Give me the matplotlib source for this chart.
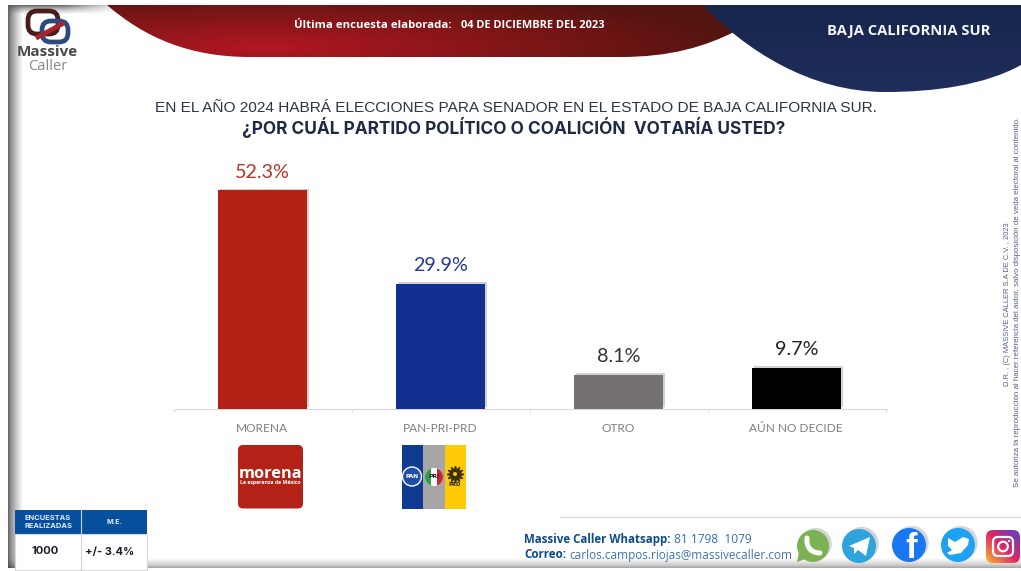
import numpy as np
import matplotlib
matplotlib.use("Agg")
import matplotlib.pyplot as plt
import matplotlib.patheffects as pe
from matplotlib.patches import Rectangle, FancyBboxPatch, Circle, Polygon, PathPatch
from matplotlib.path import Path

# ── data ──────────────────────────────────────────────────────────────────────
categories = ["MORENA", "PAN-PRI-PRD", "OTRO", "AÚN NO DECIDE"]
values = [52.3, 29.9, 8.1, 9.7]
value_labels = ["52.3%", "29.9%", "8.1%", "9.7%"]
bar_colors = ["#B22114", "#12308F", "#767171", "#000000"]
label_colors = ["#B5352A", "#23398F", "#333333", "#222222"]

W, H = 1021, 571
fig = plt.figure(figsize=(W / 100, H / 100), dpi=100, facecolor="white")

# background layer in pixel coordinates
bg = fig.add_axes([0, 0, 1, 1], zorder=0)
bg.set_xlim(0, W)
bg.set_ylim(H, 0)
bg.axis("off")


def gradient(ax, arr, extent, z=1):
    return ax.imshow(arr, extent=extent, aspect="auto", zorder=z, interpolation="bilinear")


def lerp(c1, c2, t):
    c1, c2 = np.array(c1), np.array(c2)
    return c1 + (c2 - c1) * t[..., None]


# ── page shadow ───────────────────────────────────────────────────────────────
px, py = np.meshgrid(np.arange(8, W) + 0.5, np.arange(5, 568) + 0.5)
s_left = np.clip((px - 8) / 15, 0, 1) ** 0.7
s_top = 1 - (1 - np.clip((py - 5) / 9, 0, 1) ** 0.7) * np.clip((125 - px) / 60, 0, 1)
s_bot = np.clip((568 - py) / 10, 0, 1) ** 0.6
shade = (0.35 + 0.65 * s_left * s_top) * (0.6 + 0.4 * s_bot)
gradient(bg, np.dstack([shade] * 3), (8, W, 568, 5))

# ── header shapes ─────────────────────────────────────────────────────────────
MV, C4, LT, CP = Path.MOVETO, Path.CURVE4, Path.LINETO, Path.CLOSEPOLY
red_path = Path(
    [(107, 5), (145, 38), (190, 57), (250, 57), (620, 57), (670, 57), (705, 47), (738, 30), (738, 5), (107, 5)],
    [MV, C4, C4, C4, LT, C4, C4, C4, LT, CP],
)
blue_path = Path(
    [(703, 5), (745, 50), (810, 92), (885, 92), (935, 92), (985, 85), (1021, 65), (1021, 5), (703, 5)],
    [MV, C4, C4, C4, C4, C4, C4, LT, CP],
)
xx, yy = np.meshgrid(np.linspace(100, 740, 200), np.linspace(5, 60, 40))
d = np.clip(np.hypot((xx - 265) / 470, (yy - 48) / 60), 0, 1)
red_im = gradient(bg, lerp((0.70, 0.09, 0.13), (0.33, 0.08, 0.06), d), (100, 740, 60, 5), z=3)
red_im.set_clip_path(PathPatch(red_path, transform=bg.transData))
t = np.linspace(0, 1, 40)[:, None]
blue_im = gradient(bg, lerp((0.09, 0.15, 0.30), (0.125, 0.18, 0.36), t), (700, 1021, 95, 5), z=4)
blue_im.set_clip_path(PathPatch(blue_path, transform=bg.transData))
bg.set_xlim(0, W)
bg.set_ylim(H, 0)

bg.text(294, 25.5, "Última encuesta elaborada:", color="white", fontsize=8.2, fontweight="bold",
        family="Open Sans", va="center", zorder=5)
bg.text(461, 25.5, "04 DE DICIEMBRE DEL 2023", color="white", fontsize=7.9, fontweight="bold",
        family="Open Sans", va="center", zorder=5)
bg.text(909, 30.5, "BAJA CALIFORNIA SUR", color="#F4F5F8", fontsize=10.6, fontweight="bold",
        family="Open Sans", ha="center", va="center", zorder=5)

# ── logo ──────────────────────────────────────────────────────────────────────
bg.add_patch(FancyBboxPatch((28, 11), 30, 23, boxstyle="round,pad=0,rounding_size=9", fc="none",
                            ec="#4A1B1B", lw=3.4, zorder=5))
bg.add_patch(FancyBboxPatch((42, 21), 26, 21, boxstyle="round,pad=0,rounding_size=9", fc="none",
                            ec="#2B4A80", lw=3.4, zorder=5))
bg.plot([38, 62], [37, 24], color="#A8232A", lw=3.4, zorder=6)
bg.text(47.5, 52, "Massive", color="#4A4A4A", fontsize=11, fontweight="bold", family="Open Sans",
        ha="center", va="center", zorder=5)
bg.text(47.5, 67, "Caller", color="#888888", fontsize=10.6, family="Open Sans",
        ha="center", va="center", zorder=5)

# ── titles ────────────────────────────────────────────────────────────────────
bg.text(515.5, 108, "EN EL AÑO 2024 HABRÁ ELECCIONES PARA SENADOR EN EL ESTADO DE BAJA CALIFORNIA SUR.",
        color="#2C3445", fontsize=11.05, family="Liberation Sans", ha="center", va="center", zorder=5)
bg.text(514, 127, "¿POR CUÁL PARTIDO POLÍTICO O COALICIÓN  VOTARÍA USTED?",
        color="#1E2A45", fontsize=12.45, fontweight="bold", family="Inter", ha="center", va="center", zorder=5)

# ── bars ──────────────────────────────────────────────────────────────────────
ax = fig.add_axes([173.5 / W, 1 - 408.5 / H, 712 / W, 250 / H], zorder=2)
ax.patch.set_alpha(0)
x = np.arange(len(categories))
bars = ax.bar(x, values, width=0.5, color=bar_colors, zorder=3)
for b in bars:
    b.set_path_effects([pe.SimplePatchShadow(offset=(1.2, 1.2), shadow_rgbFace="#999999", alpha=0.45), pe.Normal()])
ax.set_xlim(-0.5, 3.5)
ax.set_ylim(0, 250 / 4.17)
for v, lab, col, xi in zip(values, value_labels, label_colors, x):
    ax.annotate(lab, (xi, v), xytext=(0, 7), textcoords="offset points", ha="center", va="bottom",
                fontsize=14.2, color=col, family="Lato")
for side in ["top", "left", "right"]:
    ax.spines[side].set_visible(False)
ax.spines["bottom"].set_color("#D9D9D9")
ax.set_yticks([])
ax.set_xticks(np.arange(-0.5, 4, 1))
ax.set_xticklabels([])
ax.tick_params(axis="x", length=2.5, color="#D9D9D9")
for xi, cat in zip(x, categories):
    ax.annotate(cat, (xi, 0), xytext=(-0.5, -14.5), textcoords="offset points", ha="center", va="center",
                fontsize=8.6, color="#7F7F7F", family="Lato", annotation_clip=False)

# ── party logos ───────────────────────────────────────────────────────────────
bg.add_patch(FancyBboxPatch((238, 445), 65, 63.5, boxstyle="round,pad=0,rounding_size=5",
                            fc="#B42116", ec="none", zorder=5))
bg.text(270.5, 473.5, "morena", color="white", fontsize=11.8, fontweight="bold", family="Open Sans",
        ha="center", va="center", zorder=6)
bg.text(270.5, 482.5, "La esperanza de México", color="white", fontsize=3.7, fontweight="bold",
        family="Open Sans", ha="center", va="center", zorder=6)
for sx, sw, sc in [(402, 21, "#0F3A8F"), (423, 21.5, "#A6A6A6"), (444.5, 21.5, "#FFCB05")]:
    bg.add_patch(Rectangle((sx, 445), sw, 63.5, fc=sc, ec="none", zorder=5))
bg.add_patch(Circle((412, 476.5), 9.5, fc="#1E4FA8", ec="white", lw=1, zorder=6))
bg.text(412, 476.5, "PAN", color="white", fontsize=4.2, fontweight="bold", ha="center", va="center", zorder=7)
pri_circle = Circle((434, 477), 9, fc="white", ec="none", zorder=6)
bg.add_patch(pri_circle)
for rx, rc in [(425, "#2E9E4F"), (437, "#D2232A")]:
    stripe = Rectangle((rx, 467), 6, 20, fc=rc, ec="none", zorder=6)
    bg.add_patch(stripe)
    stripe.set_clip_path(pri_circle)
bg.text(434, 477, "PRI", color="#222222", fontsize=4.4, fontweight="bold", ha="center", va="center", zorder=7)
bg.plot([455], [474], marker=(12, 1, 0), ms=12, color="#3A3000", zorder=6)
bg.add_patch(Circle((455, 474), 2, fc="#FFCB05", ec="none", zorder=7))
bg.text(455, 484, "PRD", color="#2A2200", fontsize=3.8, fontweight="bold", ha="center", va="center", zorder=7)

# ── survey table ──────────────────────────────────────────────────────────────
bg.add_patch(Rectangle((15, 510), 132, 24, fc="#054F9C", ec="none", zorder=5))
bg.add_patch(Rectangle((15, 534), 132, 36, fc="white", ec="#D8D8D8", lw=0.8, zorder=5))
bg.plot([81, 81], [510, 570], color="#D0D0D0", lw=0.8, zorder=6)
bg.text(48, 522, "ENCUESTAS\nREALIZADAS", color="#E6ECF5", fontsize=5.4, fontweight="bold", family="Inter",
        ha="center", va="center", linespacing=1.2, zorder=7)
bg.text(114, 521.5, "M.E.", color="#E6ECF5", fontsize=5.2, fontweight="bold", family="Inter",
        ha="center", va="center", zorder=7)
bg.text(45, 551.5, "1000", color="#1B1B2B", fontsize=8, fontweight="bold", family="Inter",
        ha="center", va="center", zorder=7)
bg.text(110, 551.5, "+/- 3.4%", color="#1B1B2B", fontsize=8, fontweight="bold", family="Inter",
        ha="center", va="center", zorder=7)

# ── footer ────────────────────────────────────────────────────────────────────
bg.plot([560, 1021], [516.5, 516.5], color="#D5D5D5", lw=0.9, zorder=3)
bg.text(524, 539.5, "Massive Caller Whatsapp:", color="#0B4A8F", fontsize=8.3, fontweight="bold",
        family="Open Sans", va="center", zorder=5)
bg.text(674, 539.5, "81 1798  1079", color="#2F6DB5", fontsize=8.6, family="Open Sans", va="center", zorder=5)
bg.text(524, 555, "Correo:", color="#0B4A8F", fontsize=8.4, fontweight="bold", family="Open Sans",
        va="center", zorder=5)
bg.text(569, 555, "carlos.campos.riojas@massivecaller.com", color="#3F74B5", fontsize=8.5,
        family="Open Sans", va="center", zorder=5)

shadow = [pe.SimplePatchShadow(offset=(2, 1.5), shadow_rgbFace="#888888", alpha=0.35), pe.Normal()]
for cx, cy, r, c in [(813, 546, 16, "#7CB254"), (859, 546, 17, "#2FA4DC"),
                     (909, 545, 17, "#1877F2"), (958, 545, 17, "#1DA1F2")]:
    bg.add_patch(Circle((cx, cy), r, fc=c, ec="none", zorder=5, path_effects=shadow))
bg.add_patch(Polygon([(799, 552), (797, 562), (808, 558)], fc="#7CB254", ec="none", zorder=5))
phone = Path([(807, 538), (806, 548), (812, 553), (820, 553)], [MV, C4, C4, C4])
bg.add_patch(PathPatch(phone, fc="none", ec="white", lw=3.6, capstyle="round", zorder=6))
bg.add_patch(Polygon([(849, 546), (870, 537), (866, 556), (858, 550), (854, 554), (854, 548)],
                     fc="white", ec="none", zorder=6))
f_clip = Circle((909, 545), 17, transform=bg.transData)
f_txt = bg.text(911, 549, "f", color="white", fontsize=25, fontweight="bold", family="Liberation Sans",
                ha="center", va="center", zorder=6)
f_txt.set_clip_path(f_clip)
bg.add_patch(Polygon([(948, 538), (955, 542), (963, 537), (969, 539), (968, 545), (961, 553), (950, 555),
                      (947, 553), (952, 550), (948, 546)], fc="white", ec="none", zorder=6))

xx, yy = np.meshgrid(np.linspace(0, 1, 40), np.linspace(0, 1, 40))
t = np.clip((xx + (1 - yy)) / 2, 0, 1)
ig = np.where(t[..., None] < 0.5,
              lerp((0.98, 0.70, 0.20), (0.86, 0.15, 0.40), t * 2),
              lerp((0.86, 0.15, 0.40), (0.35, 0.25, 0.80), t * 2 - 1))
ig_im = gradient(bg, ig, (986, 1020, 563, 530), z=5)
ig_box = FancyBboxPatch((986, 530), 34, 33, boxstyle="round,pad=0,rounding_size=7", fc="none", ec="none",
                        transform=bg.transData)
bg.add_patch(ig_box)
ig_im.set_clip_path(ig_box)
bg.add_patch(FancyBboxPatch((993, 537), 20, 19, boxstyle="round,pad=0,rounding_size=5", fc="none",
                            ec="white", lw=1.6, zorder=6))
bg.add_patch(Circle((1003, 546.5), 4.8, fc="none", ec="white", lw=1.6, zorder=6))
bg.add_patch(Circle((1009, 541), 1.1, fc="white", ec="none", zorder=6))
bg.set_xlim(0, W)
bg.set_ylim(H, 0)

# ── side legal text ───────────────────────────────────────────────────────────
bg.text(1007, 304, "D.R. , (C) MASSIVE CALLER S.A DE C.V. , 2023", color="#51617F", fontsize=5.4,
        rotation=90, family="Liberation Sans", ha="center", va="center", zorder=5)
bg.text(1017, 302,
        "Se autoriza la reproducción al hacer referencia del autor, salvo disposición de veda electoral al contenido.",
        color="#51617F", fontsize=5.66, rotation=90, family="Liberation Sans", ha="center", va="center", zorder=5)

fig.savefig("out.png", dpi=100)
